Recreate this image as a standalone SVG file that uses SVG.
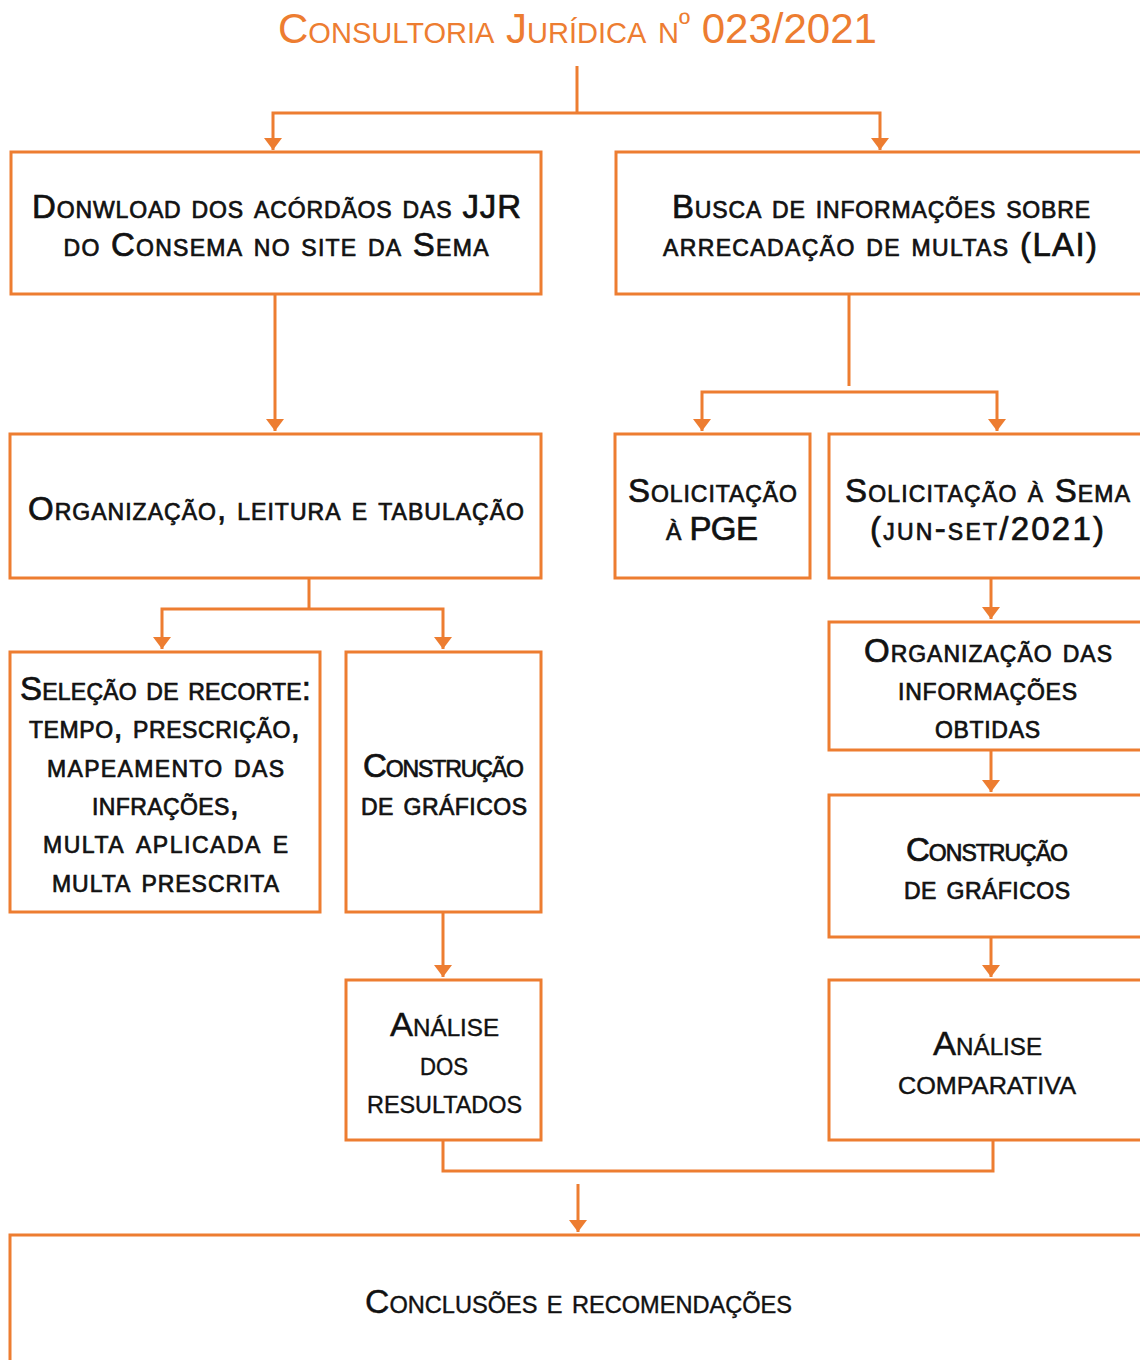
<svg xmlns="http://www.w3.org/2000/svg" width="1140" height="1360" viewBox="0 0 1140 1360">
<defs>
<marker id="arr" markerUnits="userSpaceOnUse" viewBox="0 0 12 18" refX="12" refY="9" markerWidth="12" markerHeight="18" orient="auto">
<path d="M0,0 L12,9 L0,18 z" fill="#ED7D31"/>
</marker>
<style>
.box{fill:#fff;stroke:#ED7D31;stroke-width:3}
.con{fill:none;stroke:#ED7D31;stroke-width:3}
.t{font-family:"Liberation Sans",Arial,sans-serif;font-size:33px;font-weight:400;font-variant:small-caps;fill:#111;stroke:#111;stroke-width:0.7px;text-anchor:middle}
.title{font-family:"Liberation Sans",Arial,sans-serif;font-size:42px;font-weight:400;font-variant:small-caps;fill:#ED7D31;text-anchor:middle}
.c{stroke-width:0.4px}
.sup{font-size:30px}
</style>
</defs>
<rect x="0" y="0" width="1140" height="1360" fill="#fff"/>
<text class="title" x="577.5" y="43" textLength="599" lengthAdjust="spacingAndGlyphs">Consultoria Jurídica n<tspan class="sup" dy="-9">º</tspan><tspan dy="9"> 023/2021</tspan></text>
<g id="connectors">
<path class="con" d="M577,66 V113"/>
<path class="con" d="M577,113 H273 V150" marker-end="url(#arr)"/>
<path class="con" d="M577,113 H880 V150" marker-end="url(#arr)"/>
<path class="con" d="M275,294 V431" marker-end="url(#arr)"/>
<path class="con" d="M849,294 V386"/>
<path class="con" d="M849,392 H702 V431" marker-end="url(#arr)"/>
<path class="con" d="M849,392 H997 V431" marker-end="url(#arr)"/>
<path class="con" d="M309,578 V609"/>
<path class="con" d="M309,609 H162 V649" marker-end="url(#arr)"/>
<path class="con" d="M309,609 H443 V649" marker-end="url(#arr)"/>
<path class="con" d="M991,578 V619" marker-end="url(#arr)"/>
<path class="con" d="M991,750 V792" marker-end="url(#arr)"/>
<path class="con" d="M991,937 V977" marker-end="url(#arr)"/>
<path class="con" d="M443,912 V977" marker-end="url(#arr)"/>
<path class="con" d="M443,1140 V1171 H993 V1140"/>
<path class="con" d="M578,1184 V1232" marker-end="url(#arr)"/>
</g>
<g id="n-download">
<rect class="box" x="11" y="152" width="530" height="142"/>
<text class="t" x="276.5" y="218" textLength="489" lengthAdjust="spacing">Donwload dos acórdãos das JJR</text>
<text class="t" x="276" y="256" textLength="425" lengthAdjust="spacing">do Consema no site da Sema</text>
</g>
<g id="n-busca">
<rect class="box" x="616" y="152" width="540" height="142"/>
<text class="t" x="881" y="218" textLength="418" lengthAdjust="spacing">Busca de informações sobre</text>
<text class="t" x="880" y="256" textLength="434" lengthAdjust="spacing">arrecadação de multas (LAI)</text>
</g>
<g id="n-organizacao">
<rect class="box" x="10" y="434" width="531" height="144"/>
<text class="t" x="276" y="520" textLength="496" lengthAdjust="spacing">Organização, leitura e tabulação</text>
</g>
<g id="n-pge">
<rect class="box" x="615" y="434" width="195" height="144"/>
<text class="t" x="712.5" y="502" textLength="169" lengthAdjust="spacing">Solicitação</text>
<text class="t" x="712" y="540" textLength="92" lengthAdjust="spacing">à PGE</text>
</g>
<g id="n-sema">
<rect class="box" x="829" y="434" width="330" height="144"/>
<text class="t" x="987.5" y="502" textLength="285" lengthAdjust="spacing">Solicitação à Sema</text>
<text class="t" x="987" y="540" textLength="234" lengthAdjust="spacing">(jun-set/2021)</text>
</g>
<g id="n-selecao">
<rect class="box" x="10" y="652" width="310" height="260"/>
<text class="t" x="165.5" y="700" textLength="291" lengthAdjust="spacing">Seleção de recorte:</text>
<text class="t" x="164.5" y="738" textLength="271" lengthAdjust="spacing">tempo, prescrição,</text>
<text class="t" x="165.5" y="777" textLength="237" lengthAdjust="spacing">mapeamento das</text>
<text class="t" x="165.5" y="815" textLength="147" lengthAdjust="spacing">infrações,</text>
<text class="t" x="165.5" y="853" textLength="245" lengthAdjust="spacing">multa aplicada e</text>
<text class="t" x="165.5" y="892" textLength="227" lengthAdjust="spacing">multa prescrita</text>
</g>
<g id="n-graficos-1">
<rect class="box" x="346" y="652" width="195" height="260"/>
<text class="t" x="443.5" y="777" textLength="161" lengthAdjust="spacing">Construção</text>
<text class="t" x="444" y="815" textLength="166" lengthAdjust="spacing">de gráficos</text>
</g>
<g id="n-org-info">
<rect class="box" x="829" y="622" width="330" height="128"/>
<text class="t" x="988" y="662" textLength="248" lengthAdjust="spacing">Organização das</text>
<text class="t" x="987.5" y="700" textLength="179" lengthAdjust="spacing">informações</text>
<text class="t" x="987.5" y="738" textLength="105" lengthAdjust="spacing">obtidas</text>
</g>
<g id="n-graficos-2">
<rect class="box" x="829" y="795" width="330" height="142"/>
<text class="t" x="987" y="861" textLength="162" lengthAdjust="spacing">Construção</text>
<text class="t" x="987" y="899" textLength="166" lengthAdjust="spacing">de gráficos</text>
</g>
<g id="n-analise-res">
<rect class="box" x="346" y="980" width="195" height="160"/>
<text class="t c" x="444.5" y="1036" textLength="109" lengthAdjust="spacingAndGlyphs">Análise</text>
<text class="t c" x="444" y="1075" textLength="48" lengthAdjust="spacingAndGlyphs">dos</text>
<text class="t c" x="444.5" y="1113" textLength="155" lengthAdjust="spacingAndGlyphs">resultados</text>
</g>
<g id="n-analise-comp">
<rect class="box" x="829" y="980" width="330" height="160"/>
<text class="t c" x="987.5" y="1055" textLength="109" lengthAdjust="spacingAndGlyphs">Análise</text>
<text class="t c" x="987" y="1094" textLength="178" lengthAdjust="spacingAndGlyphs">comparativa</text>
</g>
<g id="n-conclusoes">
<rect class="box" x="10" y="1235" width="1150" height="150"/>
<text class="t c" x="578.5" y="1313" textLength="427" lengthAdjust="spacingAndGlyphs">Conclusões e recomendações</text>
</g>
</svg>
